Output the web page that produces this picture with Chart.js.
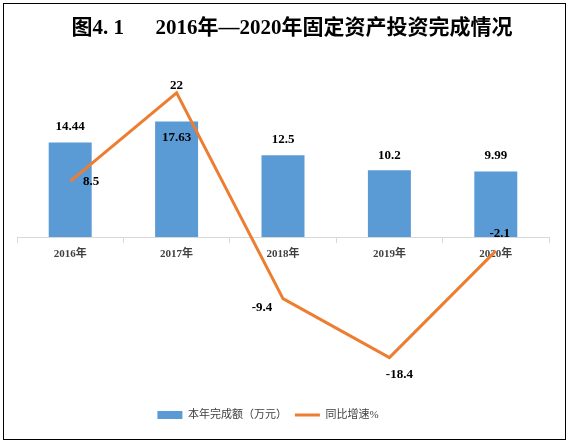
<!DOCTYPE html>
<html>
<head>
<meta charset="utf-8">
<script src="https://cdn.jsdelivr.net/npm/chart.js@4.4.0/dist/chart.umd.min.js"></script>
<style>
  html, body { margin: 0; padding: 0; background: #fff; }
  #wrap { position: relative; width: 571px; height: 445px; }
  #frame { position: absolute; left: 3px; top: 3px; width: 561px; height: 435px; border: 1.5px solid #000; pointer-events: none; }
</style>
</head>
<body>
<div id="wrap">
  <canvas id="investChart" width="571" height="445"></canvas>
  <div id="frame"></div>
</div>
<script>
// 数据
const years = ['2016年', '2017年', '2018年', '2019年', '2020年'];
const amounts = [14.44, 17.63, 12.5, 10.2, 9.99];      // 本年完成额（万元）
const growth = [8.5, 22, -9.4, -18.4, -2.1];           // 同比增速%

// 标签偏移（样式）
const barLabelDy = [-16, 16.5, -16, -15, -16];
const lineLabelOffset = [[21, 0], [0, -7], [-21, 9], [10, 17], [4, -17.5]];

const serif = '"Liberation Serif", "Times New Roman", "Noto Sans CJK SC", serif';

// 数值标签插件
const valueLabels = {
  id: 'valueLabels',
  afterLayout(chart) {
    // 标题、图例与原图的水平偏移
    chart.titleBlock.left += 9;
    chart.titleBlock.right += 9;
    chart.legend.left -= 15;
    chart.legend.right -= 15;
  },
  afterDatasetsDraw(chart) {
    const ctx = chart.ctx;
    ctx.save();
    ctx.font = 'bold 13px ' + serif;
    ctx.fillStyle = '#000';
    ctx.textAlign = 'center';
    ctx.textBaseline = 'middle';
    chart.getDatasetMeta(0).data.forEach(function(bar, i) {
      ctx.fillText(String(amounts[i]), bar.x, bar.y + barLabelDy[i]);
    });
    chart.getDatasetMeta(1).data.forEach(function(pt, i) {
      const off = lineLabelOffset[i];
      ctx.fillText(String(growth[i]), pt.x + off[0], pt.y + off[1]);
    });
    ctx.restore();
  }
};

new Chart(document.getElementById('investChart'), {
  type: 'bar',
  data: {
    labels: years,
    datasets: [{
      label: '本年完成额（万元）',
      data: amounts,
      backgroundColor: '#5B9BD5',
      borderWidth: 0,
      categoryPercentage: 1,
      barPercentage: 0.404,
      pointStyle: 'rect',
      yAxisID: 'y',
      order: 1
    }, {
      type: 'line',
      label: '同比增速%',
      data: growth,
      borderColor: '#ED7D31',
      backgroundColor: '#ED7D31',
      borderWidth: 3,
      tension: 0,
      pointRadius: 0,
      pointStyle: 'line',
      yAxisID: 'y1',
      order: 0
    }]
  },
  options: {
    responsive: false,
    animation: false,
    devicePixelRatio: 1,
    layout: { padding: { left: 17, right: 22, top: 0, bottom: 14.5 } },
    scales: {
      x: {
        position: { y: 0 },
        grid: {
          offset: true,
          drawOnChartArea: false,
          drawTicks: true,
          tickLength: 5,
          color: '#d9d9d9'
        },
        border: { color: '#d9d9d9', width: 1 },
        ticks: {
          color: '#404040',
          padding: 5,
          font: { family: serif, size: 11, weight: 'bold' }
        }
      },
      y: { display: false, min: -25.1, max: 28.37 },
      y1: { display: false, min: -25.1, max: 28.37 }
    },
    plugins: {
      title: {
        display: true,
        text: '图4. 1\u3000  2016年—2020年固定资产投资完成情况',
        color: '#000',
        font: { family: serif, size: 21, weight: 'bold' },
        padding: { top: 16, bottom: 10 }
      },
      legend: {
        position: 'bottom',
        labels: {
          usePointStyle: true,
          pointStyleWidth: 25,
          boxHeight: 8,
          padding: 8,
          color: '#404040',
          font: { family: serif, size: 11 },
          sort: function(a, b) { return a.datasetIndex - b.datasetIndex; }
        }
      },
      tooltip: { enabled: false }
    }
  },
  plugins: [valueLabels]
});
</script>
</body>
</html>
